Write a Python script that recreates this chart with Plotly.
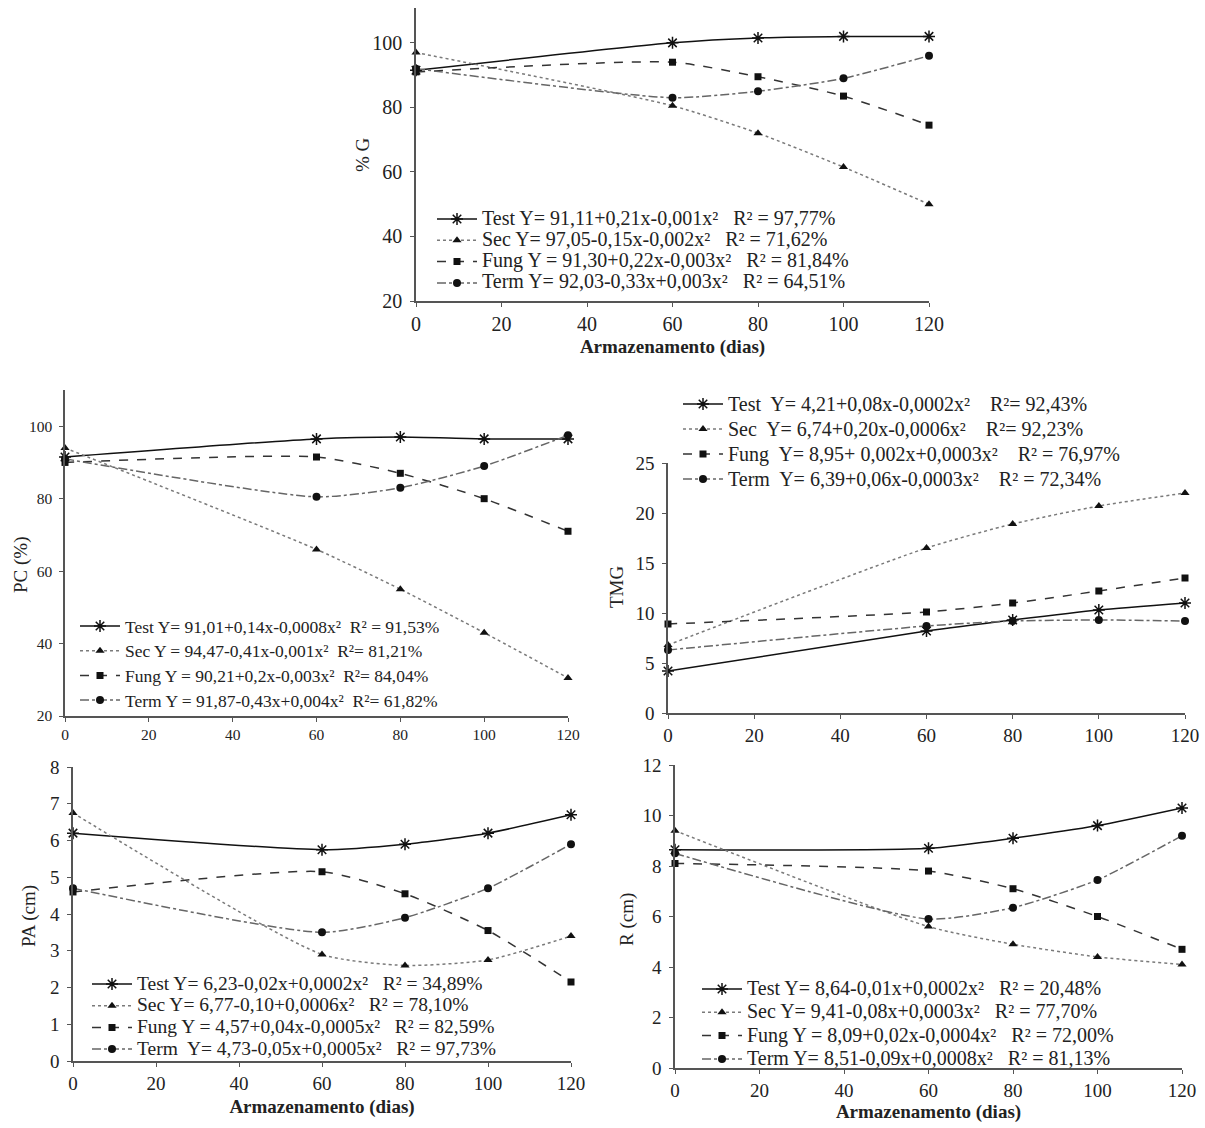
import plotly.graph_objects as go

days = [0, 60, 80, 100, 120]
x_ticks = [0, 20, 40, 60, 80, 100, 120]

# %G
g_test = [91.5, 100.0, 101.5, 102.0, 102.0]
g_sec = [97.0, 80.5, 72.0, 61.5, 50.0]
g_fung = [91.0, 94.0, 89.5, 83.5, 74.5]
g_term = [92.0, 83.0, 85.0, 89.0, 96.0]
g_labels = ["Test Y= 91,11+0,21x-0,001x²   R² = 97,77%",
            "Sec Y= 97,05-0,15x-0,002x²   R² = 71,62%",
            "Fung Y = 91,30+0,22x-0,003x²   R² = 81,84%",
            "Term Y= 92,03-0,33x+0,003x²   R² = 64,51%"]

# PC (%)
pc_test = [91.5, 96.5, 97.0, 96.5, 96.5]
pc_sec = [94.0, 66.0, 55.0, 43.0, 30.5]
pc_fung = [90.0, 91.5, 87.0, 80.0, 71.0]
pc_term = [91.0, 80.5, 83.0, 89.0, 97.5]
pc_labels = ["Test Y= 91,01+0,14x-0,0008x²  R² = 91,53%",
             "Sec Y = 94,47-0,41x-0,001x²  R²= 81,21%",
             "Fung Y = 90,21+0,2x-0,003x²  R²= 84,04%",
             "Term Y = 91,87-0,43x+0,004x²  R²= 61,82%"]

# TMG
t_test = [4.2, 8.2, 9.3, 10.3, 11.0]
t_sec = [6.8, 16.5, 18.9, 20.7, 22.0]
t_fung = [8.9, 10.1, 11.0, 12.2, 13.5]
t_term = [6.3, 8.7, 9.2, 9.3, 9.2]
t_labels = ["Test  Y= 4,21+0,08x-0,0002x²    R²= 92,43%",
            "Sec  Y= 6,74+0,20x-0,0006x²    R²= 92,23%",
            "Fung  Y= 8,95+ 0,002x+0,0003x²    R² = 76,97%",
            "Term  Y= 6,39+0,06x-0,0003x²    R² = 72,34%"]

# PA (cm)
pa_test = [6.2, 5.75, 5.9, 6.2, 6.7]
pa_sec = [6.75, 2.9, 2.6, 2.75, 3.4]
pa_fung = [4.6, 5.15, 4.55, 3.55, 2.15]
pa_term = [4.7, 3.5, 3.9, 4.7, 5.9]
pa_labels = ["Test Y= 6,23-0,02x+0,0002x²   R² = 34,89%",
             "Sec Y= 6,77-0,10+0,0006x²   R² = 78,10%",
             "Fung Y = 4,57+0,04x-0,0005x²   R² = 82,59%",
             "Term  Y= 4,73-0,05x+0,0005x²   R² = 97,73%"]

# R (cm)
r_test = [8.64, 8.7, 9.1, 9.6, 10.3]
r_sec = [9.4, 5.6, 4.9, 4.4, 4.1]
r_fung = [8.1, 7.8, 7.1, 6.0, 4.7]
r_term = [8.5, 5.9, 6.35, 7.45, 9.2]
r_labels = ["Test Y= 8,64-0,01x+0,0002x²   R² = 20,48%",
            "Sec Y= 9,41-0,08x+0,0003x²   R² = 77,70%",
            "Fung Y = 8,09+0,02x-0,0004x²   R² = 72,00%",
            "Term Y= 8,51-0,09x+0,0008x²   R² = 81,13%"]

W, H = 1205, 1128
FONT = "Liberation Serif"
TXT = "#222222"

styles = [
    dict(color="#111111", dash="solid", symbol="asterisk-open", size=10),
    dict(color="#7a7a7a", dash="dot", symbol="triangle-up", size=8),
    dict(color="#333333", dash="dash", symbol="square", size=7),
    dict(color="#666666", dash="dashdot", symbol="circle", size=8),
]

panels = [
    dict(series=[g_test, g_sec, g_fung, g_term], labels=g_labels, xpx=(416, 929), ypx=(8, 301),
         yr=(20, 110.8), dt=20, ytitle="% G", xtitle=True, leg=(437, 218, 21.3, 20), ytpos=(362, 155),
         tick=20, stand=6),
    dict(series=[pc_test, pc_sec, pc_fung, pc_term], labels=pc_labels, xpx=(65, 568), ypx=(390, 716),
         yr=(20, 110), dt=20, ytitle="PC (%)", xtitle=False, leg=(80, 625, 24.7, 17.5), ytpos=(21, 565),
         tick=15.5, stand=6),
    dict(series=[t_test, t_sec, t_fung, t_term], labels=t_labels, xpx=(668, 1185), ypx=(463, 713),
         yr=(0, 25), dt=5, ytitle="TMG", xtitle=False, leg=(683, 403, 25, 20), ytpos=(616, 587),
         tick=19, stand=6),
    dict(series=[pa_test, pa_sec, pa_fung, pa_term], labels=pa_labels, xpx=(73, 571), ypx=(767, 1061),
         yr=(0, 8), dt=1, ytitle="PA (cm)", xtitle=True, leg=(92, 983, 21.7, 19.5), ytpos=(29, 916),
         tick=19, stand=7),
    dict(series=[r_test, r_sec, r_fung, r_term], labels=r_labels, xpx=(675, 1182), ypx=(765, 1068),
         yr=(0, 12), dt=2, ytitle="R (cm)", xtitle=True, leg=(702, 988, 23.3, 20), ytpos=(627, 920),
         tick=19, stand=5),
]

fig = go.Figure()
layout = {}
for i, p in enumerate(panels):
    n = "" if i == 0 else str(i + 1)
    xa, ya = "x" + n, "y" + n
    lg = "legend" + n
    for s, lab, st in zip(p["series"], p["labels"], styles):
        fig.add_trace(go.Scatter(
            x=days, y=s, mode="lines+markers",
            name='<span style="font-size:%spx">%s</span>' % (p["leg"][3], lab),
            xaxis=xa, yaxis=ya, legend=lg, cliponaxis=False,
            line=dict(color=st["color"], dash=st["dash"], width=1.5, shape="spline", smoothing=0.6),
            marker=dict(symbol=st["symbol"], size=st["size"], color="#111111",
                        line=dict(color="#111111", width=1.5 if st["symbol"].startswith("asterisk") else 0)),
        ))
    xpx, ypx = p["xpx"], p["ypx"]
    layout["xaxis" + n] = dict(
        domain=[xpx[0] / W, xpx[1] / W], anchor=ya, range=[0, 120], automargin=False,
        tickvals=x_ticks, showgrid=False, zeroline=False, showline=True,
        linecolor="#555555", linewidth=1.5, ticks="outside", ticklen=4, tickcolor="#555555",
        tickfont=dict(family=FONT, size=p["tick"], color=TXT),
        title=dict(text="<b>Armazenamento (dias)</b>" if p["xtitle"] else "",
                   font=dict(family=FONT, size=19, color=TXT), standoff=p["stand"]),
    )
    layout["yaxis" + n] = dict(
        domain=[1 - ypx[1] / H, 1 - ypx[0] / H], anchor=xa, range=list(p["yr"]), automargin=False,
        tickmode="linear", tick0=p["yr"][0], dtick=p["dt"], showgrid=False, zeroline=False, showline=True,
        linecolor="#555555", linewidth=1.5, ticks="outside", ticklen=4, tickcolor="#555555",
        ticklabelstandoff=4,
        tickfont=dict(family=FONT, size=p["tick"], color=TXT),
    )
    lx, ly, sp, fs = p["leg"]
    legfont = (sp - 3) / 1.3
    layout[lg] = dict(
        x=(lx - 5) / W, y=1 - (ly - sp / 2 - 4) / H, xanchor="left", yanchor="top",
        bgcolor="rgba(0,0,0,0)", font=dict(family=FONT, size=legfont, color=TXT),
        tracegroupgap=0, itemwidth=40, borderwidth=0,
    )
    fig.add_annotation(
        text=p["ytitle"], xref="paper", yref="paper", x=p["ytpos"][0] / W,
        y=1 - p["ytpos"][1] / H, textangle=-90, showarrow=False,
        font=dict(family=FONT, size=19, color=TXT), xanchor="center", yanchor="middle",
    )

fig.update_layout(
    width=W, height=H, margin=dict(l=0, r=0, t=0, b=0, autoexpand=False),
    paper_bgcolor="white", plot_bgcolor="white", showlegend=True,
    **layout,
)

fig.write_html(
    "out.html",
    config={"displayModeBar": False},
    post_script="document.body.style.margin='0';document.body.style.overflow='hidden';"
                "document.documentElement.style.overflow='hidden';",
)
